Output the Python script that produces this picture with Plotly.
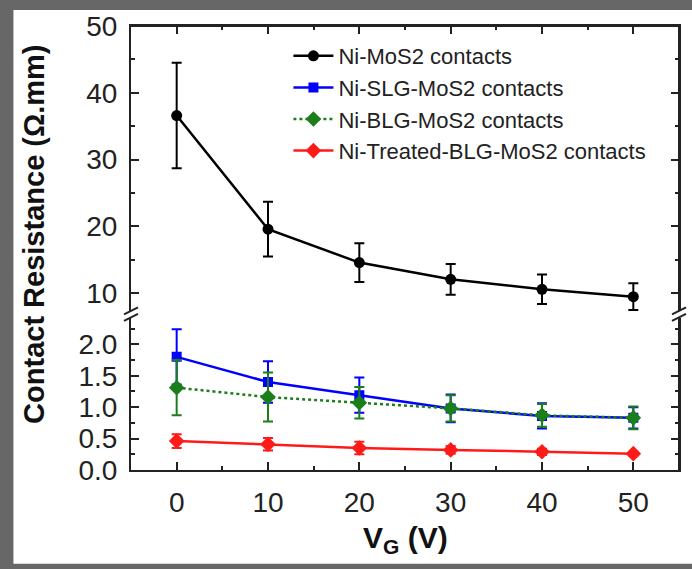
import plotly.graph_objects as go

# ---- data ----
vg = [0, 10, 20, 30, 40, 50]
ni_mos2 = [36.6, 19.6, 14.6, 12.1, 10.6, 9.5]
ni_mos2_err = [7.9, 4.1, 2.9, 2.3, 2.2, 2.0]
ni_slg = [1.80, 1.40, 1.19, 0.98, 0.86, 0.83]
ni_slg_err = [0.44, 0.33, 0.28, 0.22, 0.20, 0.17]
ni_blg = [1.31, 1.16, 1.07, 0.98, 0.87, 0.83]
ni_blg_err = [0.44, 0.39, 0.25, 0.21, 0.18, 0.18]
ni_tblg = [0.46, 0.41, 0.35, 0.32, 0.29, 0.26]
ni_tblg_err = [0.11, 0.10, 0.10, 0.06, 0.05, 0.03]

names = ["Ni-MoS2 contacts", "Ni-SLG-MoS2 contacts",
         "Ni-BLG-MoS2 contacts", "Ni-Treated-BLG-MoS2 contacts"]
x_ticks = [0, 10, 20, 30, 40, 50]
upper_ticks = [10, 20, 30, 40, 50]
lower_ticks = [0.0, 0.5, 1.0, 1.5, 2.0]
lower_labels = ["0.0", "0.5", "1.0", "1.5", "2.0"]

FONT = "Liberation Sans, Arial, sans-serif"
AX = "#222222"

fig = go.Figure()

def add(y, err, name, color, symbol, dash, xa, ya, msize):
    fig.add_trace(go.Scatter(
        x=vg, y=y, name=name, mode="lines+markers",
        xaxis=xa, yaxis=ya,
        line=dict(color=color, width=2.5, dash=dash),
        marker=dict(color=color, symbol=symbol, size=msize),
        error_y=dict(type="data", array=err, visible=True, color=color,
                     thickness=2, width=5),
    ))

add(ni_mos2, ni_mos2_err, names[0], "black", "circle", "solid", "x2", "y2", 11)
add(ni_slg, ni_slg_err, names[1], "#0000ff", "square", "solid", "x", "y", 10)
add(ni_blg, ni_blg_err, names[2], "#1a7f1a", "diamond", "dot", "x", "y", 12)
add(ni_tblg, ni_tblg_err, names[3], "#ff1a1a", "diamond", "solid", "x", "y", 12)

L, R, T, B = 131, 11, 25, 99
W, H = 692, 569
PW, PH = W - L - R, H - T - B

def px(xp):
    return (xp - L) / PW

def py(yp):
    return (H - B - yp) / PH

lower_top = py(318)
upper_bot = py(311)

common_axis = dict(showline=True, linewidth=2, linecolor=AX, ticks="inside",
                   tickcolor=AX, tickwidth=2, ticklen=8, showgrid=False,
                   zeroline=False,
                   tickfont=dict(family=FONT, size=28, color=AX))

fig.update_layout(
    width=W, height=H,
    margin=dict(l=L, r=R, t=T, b=B),
    paper_bgcolor="#676767",
    plot_bgcolor="white",
    showlegend=True,
    xaxis=dict(common_axis, range=[-5, 55], tickvals=x_ticks, anchor="y",
               domain=[0, 1], ticklabelstandoff=6,
               minor=dict(dtick=5, tick0=0, ticks="inside", ticklen=4,
                          tickwidth=2, tickcolor=AX)),
    xaxis2=dict(common_axis, range=[-5, 55], tickvals=x_ticks, anchor="y2",
                side="top", showticklabels=False,
                minor=dict(dtick=5, tick0=0, ticks="inside", ticklen=4,
                           tickwidth=2, tickcolor=AX)),
    yaxis=dict(common_axis, range=[0, 152 / 63.0],
               domain=[0, lower_top], anchor="x", mirror="ticks",
               tickvals=lower_ticks, ticktext=lower_labels,
               ticklabelstandoff=6,
               minor=dict(dtick=0.25, tick0=0, ticks="inside", ticklen=4,
                          tickwidth=2, tickcolor=AX)),
    yaxis2=dict(common_axis, range=[7.3, 50], domain=[upper_bot, 1],
                anchor="x2", mirror="ticks", tickvals=upper_ticks,
                ticklabelstandoff=6,
                minor=dict(dtick=5, tick0=0, ticks="inside", ticklen=4,
                           tickwidth=2, tickcolor=AX)),
    legend=dict(x=px(289), y=py(34), xanchor="left", yanchor="top",
                bgcolor="rgba(0,0,0,0)", borderwidth=0,
                font=dict(family=FONT, size=22, color="#222222"),
                itemwidth=40, tracegroupgap=0),
)

# white panel on grey frame
fig.add_shape(type="rect", xref="paper", yref="paper",
              x0=px(13), x1=px(700), y0=py(564), y1=py(9),
              fillcolor="white", line=dict(width=0), layer="below")

# frame lines (top and right)
fig.add_shape(type="line", xref="paper", yref="paper",
              x0=0, y0=1, x1=1, y1=1, line=dict(color=AX, width=2))
fig.add_shape(type="line", xref="paper", yref="paper",
              x0=1, y0=upper_bot, x1=1, y1=1, line=dict(color=AX, width=2))
fig.add_shape(type="line", xref="paper", yref="paper",
              x0=1, y0=0.0, x1=1, y1=lower_top, line=dict(color=AX, width=2))

# axis break marks
for xc in (0, 1):
    for yc in (py(310.5), py(317)):
        fig.add_shape(type="line", xref="paper", yref="paper",
                      x0=xc - 7 / PW, x1=xc + 7 / PW,
                      y0=yc - 3.5 / PH, y1=yc + 3.5 / PH,
                      line=dict(color=AX, width=2))

# axis titles
fig.add_annotation(text="<b>Contact Resistance (Ω.mm)</b>", xref="paper",
                   yref="paper", x=px(33), y=py(234), textangle=-90,
                   showarrow=False, xanchor="center", yanchor="middle",
                   font=dict(family=FONT, size=29, color="#111111"))
fig.add_annotation(text="<b>V<sub>G</sub> (V)</b>", xref="paper",
                   yref="paper", x=px(406), y=py(540),
                   showarrow=False, xanchor="center", yanchor="middle",
                   font=dict(family=FONT, size=30, color="#111111"))

fig.write_html(
    "out.html",
    config={"displayModeBar": False},
    post_script="document.body.style.margin='0';document.body.style.padding='0';",
)
